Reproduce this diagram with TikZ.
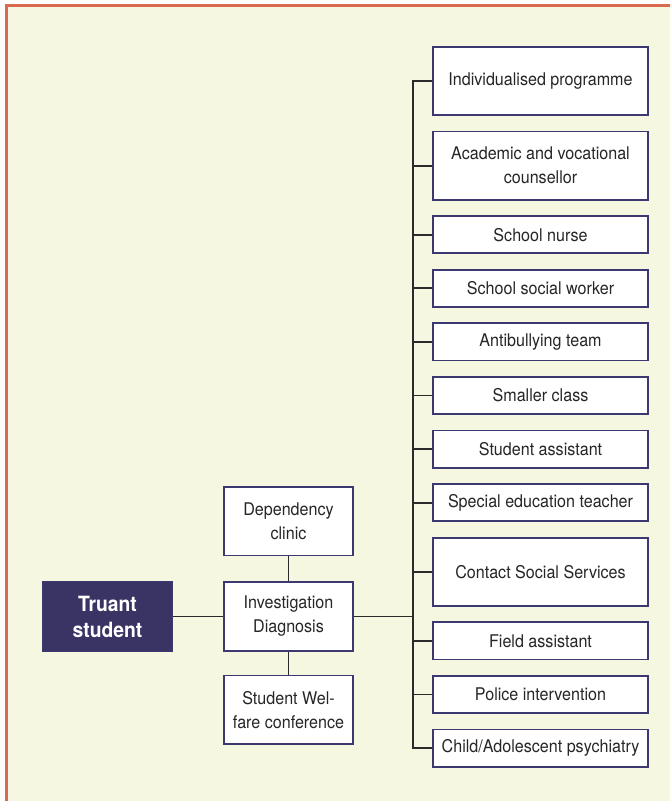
\documentclass[tikz,border=0pt]{standalone}
\usepackage{fontspec}
\setmainfont{TeX Gyre Heros}[FakeStretch=0.92]
\usepackage{xcolor}
\usetikzlibrary{positioning}
\definecolor{framecol}{HTML}{DA6A4F}
\definecolor{paper}{HTML}{F6F7E1}
\definecolor{navy}{HTML}{3A3464}
\definecolor{boxline}{HTML}{3B3970}
\definecolor{linecol}{HTML}{2B2B2B}

\begin{document}
\begin{tikzpicture}[x=1pt, y=-1pt, node distance=14.6pt,
  box/.style={draw=boxline, line width=1.8pt, fill=white, align=center, inner sep=2pt,
    text=black!85, font=\fontsize{17.5}{24}\selectfont},
  sidebox/.style={box, minimum width=129pt, minimum height=68.5pt},
  tallbox/.style={box, minimum width=215pt, minimum height=68.2pt},
  shortbox/.style={box, minimum width=215pt, minimum height=37.2pt},
  pupil/.style={draw=boxline, line width=1.2pt, fill=navy, text=white, align=center,
    minimum width=130pt, minimum height=70pt, font=\bfseries\fontsize{21}{26}\selectfont},
  wire/.style={draw=linecol, line width=1.9pt}]
  % page and frame
  \clip (0,0) rectangle (670,801);
  \fill[white] (0,0) rectangle (670,801);
  \draw[framecol, line width=3pt, fill=paper] (6.5,5.5) rectangle (700,830);
  % left part
  \node[pupil] (truant) at (107.5,616.5) {Truant\\student};
  \node[sidebox] (diag) at (288.5,616.5) {Investigation\\Diagnosis};
  \node[sidebox, above=25pt of diag] (clinic) {Dependency\\clinic};
  \node[sidebox, below=23pt of diag] (welfare) {Student Wel-\\fare conference};
  % measures
  \node[tallbox] (prog) at (540.5,81) {Individualised programme};
  \node[tallbox, below=of prog] (couns) {Academic and vocational\\counsellor};
  \node[shortbox, below=of couns] (nurse) {School nurse};
  \node[shortbox, below=of nurse] (social) {School social worker};
  \node[shortbox, below=of social] (bully) {Antibullying team};
  \node[shortbox, below=of bully] (small) {Smaller class};
  \node[shortbox, below=of small] (assist) {Student assistant};
  \node[shortbox, below=of assist] (special) {Special education teacher};
  \node[tallbox, below=of special] (services) {Contact Social Services};
  \node[shortbox, below=of services] (field) {Field assistant};
  \node[shortbox, below=of field] (police) {Police intervention};
  \node[shortbox, below=of police] (psych) {Child/Adolescent psychiatry};
  \coordinate (trunk) at (413,616.5);
  \draw[wire] (truant) -- (diag);
  \draw[wire] (clinic) -- (diag);
  \draw[wire] (diag) -- (welfare);
  \draw[wire] (diag.east) -- (trunk);
  \draw[wire] (prog.west) -- (prog.west -| trunk) -- (psych.west -| trunk) -- (psych.west);
  \foreach \n in {couns,nurse,social,bully,small,assist,special,services,field,police}
    \draw[wire] (\n.west) -- (\n.west -| trunk);
\end{tikzpicture}
\end{document}
